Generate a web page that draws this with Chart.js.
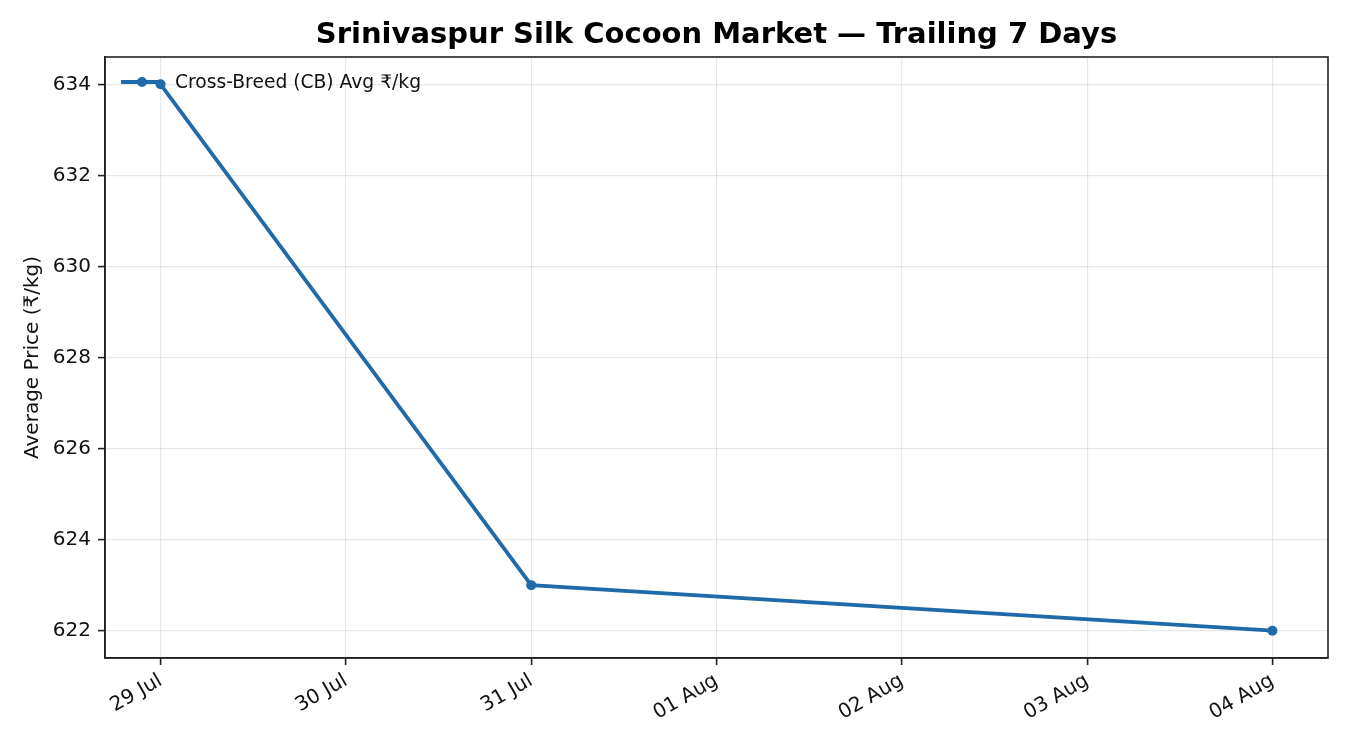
<!DOCTYPE html>
<html>
<head>
<meta charset="utf-8">
<script src="https://cdn.jsdelivr.net/npm/chart.js@4.4.0/dist/chart.umd.min.js"></script>
<style>
  html, body { margin: 0; padding: 0; background: #fff; }
  canvas { display: block; }
</style>
</head>
<body>
<canvas id="priceChart" width="1350" height="750"></canvas>
<script>
// Days on the x axis (index = day offset from 29 Jul)
const dayLabels = ['29 Jul', '30 Jul', '31 Jul', '01 Aug', '02 Aug', '03 Aug', '04 Aug'];
// Market days that had a price
const priceDays = [0, 2, 6];
const cbPrices = [634, 623, 622];
const yTicks = [622, 624, 626, 628, 630, 632, 634];

const chartTitle = 'Srinivaspur Silk Cocoon Market — Trailing 7 Days';
const lineColor = '#1f6aa8';
const fontFamily = '"DejaVu Sans", Verdana, sans-serif';

// Title centred over the plot area, frame, and legend inside the top-left corner
const framePlugin = {
    id: 'frame',
    afterDraw(chart) {
        const { ctx, chartArea: a } = chart;
        ctx.save();

        ctx.fillStyle = '#000';
        ctx.font = 'bold 29px ' + fontFamily;
        ctx.textAlign = 'center';
        ctx.textBaseline = 'middle';
        ctx.fillText(chartTitle, (a.left + a.right) / 2, 35);

        ctx.strokeStyle = '#222';
        ctx.lineWidth = 1.6;
        ctx.strokeRect(a.left, a.top, a.right - a.left, a.bottom - a.top);

        // legend entry
        const ds = chart.data.datasets[0];
        const ly = a.top + 25;
        const lx = a.left + 16;
        ctx.strokeStyle = lineColor;
        ctx.lineWidth = 3.8;
        ctx.beginPath();
        ctx.moveTo(lx, ly);
        ctx.lineTo(lx + 42, ly);
        ctx.stroke();
        ctx.fillStyle = lineColor;
        ctx.beginPath();
        ctx.arc(lx + 21, ly, 5, 0, Math.PI * 2);
        ctx.fill();
        ctx.fillStyle = '#111';
        ctx.font = '18.7px ' + fontFamily;
        ctx.textBaseline = 'middle';
        ctx.textAlign = 'left';
        ctx.fillText(ds.label, lx + 54, ly + 1);
        ctx.restore();
    }
};

function initChart() {
    const ctx = document.getElementById('priceChart').getContext('2d');
    const points = priceDays.map((d, i) => ({ x: d, y: cbPrices[i] }));

    new Chart(ctx, {
        type: 'line',
        data: {
            datasets: [{
                label: 'Cross-Breed (CB) Avg ₹/kg',
                data: points,
                borderColor: lineColor,
                backgroundColor: lineColor,
                borderWidth: 3.8,
                pointRadius: 5,
                pointHoverRadius: 5,
                pointBorderWidth: 0,
                tension: 0,
                fill: false
            }]
        },
        options: {
            responsive: false,
            animation: false,
            devicePixelRatio: 1,
            layout: { padding: { left: 0, right: 22, top: 57, bottom: 0 } },
            scales: {
                x: {
                    type: 'linear',
                    min: -0.3,
                    max: 6.3,
                    afterBuildTicks: axis => { axis.ticks = dayLabels.map((_, i) => ({ value: i })); },
                    afterFit: axis => { axis.height = 92; },
                    ticks: {
                        autoSkip: false,
                        minRotation: 30,
                        maxRotation: 30,
                        padding: 4,
                        color: '#111',
                        font: { family: fontFamily, size: 20 },
                        callback: v => dayLabels[v]
                    },
                    grid: {
                        color: 'rgba(0,0,0,0.09)',
                        lineWidth: 1.2,
                        tickLength: 7,
                        tickColor: '#222',
                        tickWidth: 1.6
                    },
                    border: { display: true, color: '#222', width: 1.6 }
                },
                y: {
                    type: 'linear',
                    min: 621.4,
                    max: 634.6,
                    afterBuildTicks: axis => { axis.ticks = yTicks.map(v => ({ value: v })); },
                    afterFit: axis => { axis.width = 105; },
                    title: {
                        display: true,
                        text: 'Average Price (₹/kg)',
                        color: '#111',
                        font: { family: fontFamily, size: 20 },
                        padding: { top: 21, bottom: 0 }
                    },
                    ticks: {
                        padding: 7,
                        color: '#111',
                        font: { family: fontFamily, size: 20 }
                    },
                    grid: {
                        color: 'rgba(0,0,0,0.09)',
                        lineWidth: 1.2,
                        tickLength: 7,
                        tickColor: '#222',
                        tickWidth: 1.6
                    },
                    border: { display: true, color: '#222', width: 1.6 }
                }
            },
            plugins: {
                legend: { display: false },
                tooltip: { enabled: false },
                title: { display: false }
            }
        },
        plugins: [framePlugin]
    });
}

document.addEventListener('DOMContentLoaded', initChart);
</script>
</body>
</html>
